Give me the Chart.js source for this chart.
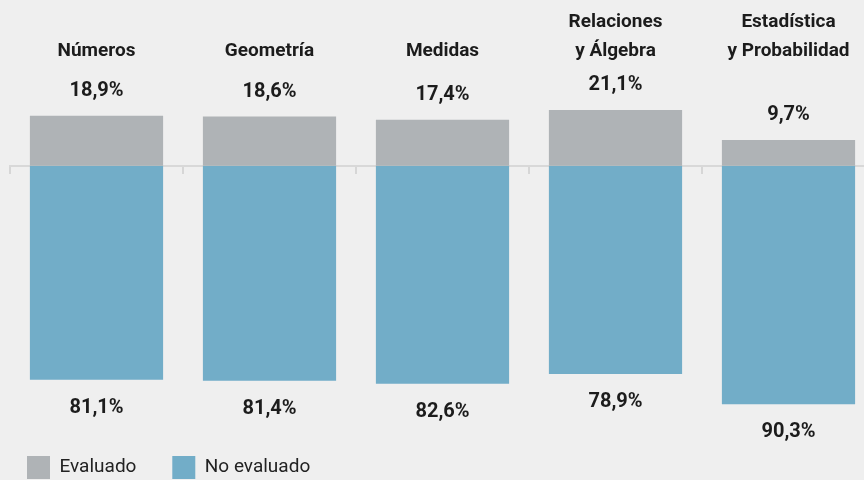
<!DOCTYPE html>
<html lang="es">
<head>
    <meta charset="UTF-8">
    <title>Evaluado / No evaluado por eje</title>
    <script src="https://cdn.jsdelivr.net/npm/chart.js"></script>
    <style>
        html, body { margin: 0; padding: 0; overflow: hidden; background: #efefef; }
        #wrap { position: relative; width: 875px; height: 489px; }
    </style>
</head>
<body>
    <div id="wrap"><canvas id="chart"></canvas></div>

    <script>
        // Datos
        const categories = ["Números", "Geometría", "Medidas", ["Relaciones", "y Álgebra"], ["Estadística", "y Probabilidad"]];
        const evaluado = [18.9, 18.6, 17.4, 21.1, 9.7];
        const noEvaluado = [81.1, 81.4, 82.6, 78.9, 90.3];
        const seriesNames = ["Evaluado", "No evaluado"];

        const fmt = v => v.toFixed(1).replace('.', ',') + '%';
        const FONT = 'Roboto';

        // etiquetas de valor encima / debajo de cada barra
        const valueLabels = {
            id: 'valueLabels',
            afterDatasetsDraw(chart) {
                const ctx = chart.ctx;
                ctx.save();
                ctx.font = 'bold 20px ' + FONT;
                ctx.fillStyle = '#1c1c1c';
                ctx.textAlign = 'center';
                ctx.textBaseline = 'middle';
                chart.getDatasetMeta(0).data.forEach((bar, i) => {
                    ctx.fillText(fmt(evaluado[i]), bar.x, bar.y - 25);
                });
                chart.getDatasetMeta(1).data.forEach((bar, i) => {
                    ctx.fillText(fmt(noEvaluado[i]), bar.x, bar.y + 28);
                });
                ctx.restore();
            }
        };

        new Chart(document.getElementById('chart'), {
            type: 'bar',
            data: {
                labels: categories,
                datasets: [{
                    label: seriesNames[0],
                    data: evaluado,
                    backgroundColor: '#afb3b6'
                }, {
                    label: seriesNames[1],
                    data: noEvaluado.map(v => -v),
                    backgroundColor: '#72adc8'
                }]
            },
            options: {
                responsive: true,
                maintainAspectRatio: false,
                animation: false,
                layout: { padding: { left: 10, top: 5, right: 0, bottom: 0 } },
                datasets: { bar: { categoryPercentage: 0.77, barPercentage: 1 } },
                scales: {
                    x: {
                        stacked: true,
                        position: { y: 0 },
                        z: 1,
                        grid: { offset: true, drawOnChartArea: false, tickLength: 7, color: '#d6d6d6', lineWidth: 2 },
                        border: { color: '#d8d8d8', width: 2 },
                        ticks: { display: false }
                    },
                    xTop: {
                        position: 'top',
                        labels: categories,
                        grid: { display: false, drawTicks: false },
                        border: { display: false },
                        ticks: {
                            padding: 3,
                            color: '#1c1c1c',
                            maxRotation: 0,
                            font: { family: FONT, size: 19, weight: 'bold', lineHeight: 1.5 }
                        }
                    },
                    y: {
                        stacked: true,
                        display: false,
                        min: -103.5,
                        max: 37
                    }
                },
                plugins: {
                    tooltip: { enabled: false },
                    legend: {
                        position: 'bottom',
                        align: 'start',
                        labels: {
                            boxWidth: 23,
                            boxHeight: 23,
                            padding: 17,
                            color: '#222',
                            font: { family: FONT, size: 19 },
                            // un poco de aire entre las dos entradas
                            generateLabels(chart) {
                                const items = Chart.defaults.plugins.legend.labels.generateLabels(chart);
                                items[0].text += '    ';
                                return items;
                            }
                        }
                    }
                }
            },
            plugins: [valueLabels]
        });
    </script>
</body>
</html>
